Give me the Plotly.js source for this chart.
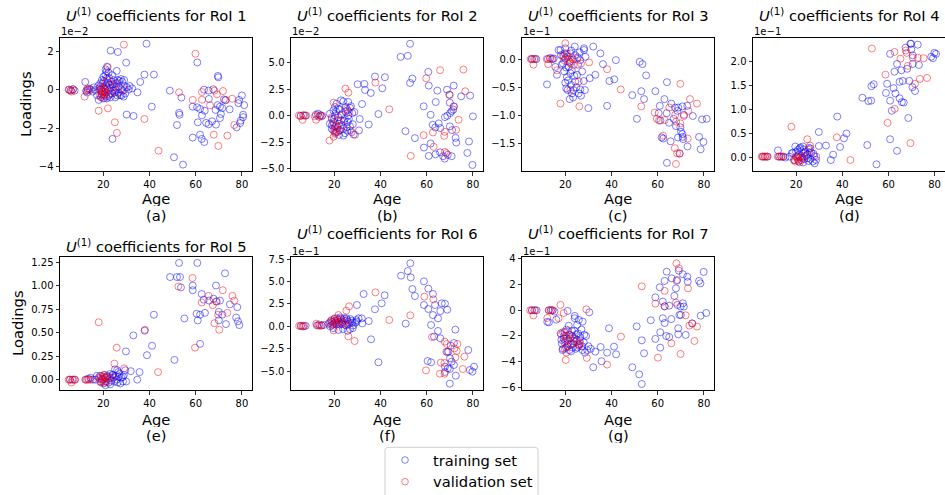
<!DOCTYPE html>
<html><head><meta charset="utf-8">
<script src="https://cdn.plot.ly/plotly-3.0.1.min.js"></script>
<style>html,body{margin:0;background:#fff;overflow:hidden}#chart{width:945px;height:495px}</style>
</head><body><div id="chart"></div>
<script>
// ---------------- data: [age, loading] (loading in units of the panel's offset) -------------
const seriesNames = ['training set', 'validation set'];
const panelLabels = ['(a)', '(b)', '(c)', '(d)', '(e)', '(f)', '(g)'];
const roiNames = ['1', '2', '3', '4', '5', '6', '7'];
const offsetTexts = ['1e\u22122', '1e\u22122', '1e\u22121', '1e\u22121', '', '1e\u22121', '1e\u22121'];
const ageTicks = [20, 40, 60, 80];

const trainRoI1 = [[5.2,0.0],[6.0,-0.03],[6.8,0.02],[7.6,-0.05],[12.2,0.4],[12.6,-0.08],[13.3,0.0],[14.0,0.05],[14.7,0.0],[15.4,-0.1],[13.0,-0.15],
[18.7,0.33],[19.4,0.5],[20.1,0.67],[20.9,0.76],[21.0,1.05],[21.6,1.19],[22.3,0.88],[22.6,0.6],[23.5,0.41],[24.5,0.5],[25.8,0.97],[26.2,0.5],[27.6,0.55],[28.2,0.41],[26.8,0.16],[29.1,0.19],[30.2,0.12],[31.4,0.19],[32.5,0.07],[27.3,-0.28],[28.8,-0.36],[25.2,-0.4],[22.2,-0.33],[21.6,-0.45],[18.0,-0.53],[17.3,-0.29],[16.5,-0.02],[19.4,-0.1],[20.4,-0.28],[22.3,-0.02],[24.2,-0.05],[25.3,-0.02],[26.6,-0.16],[27.8,0.02],[21.3,0.19],[19.9,0.12],[18.4,0.07],[15.8,0.12],
[20.5,-0.1],[21.2,-0.35],[22.8,0.25],[23.8,-0.2],[24.8,0.3],[19.0,-0.4],[20.0,-0.45],[21.8,0.1],[23.0,-0.4],[25.6,0.1],[26.0,-0.3],[28.5,-0.05],[29.5,-0.2],[31.0,0.0],
[17.8,0.2],[18.9,0.0],[19.6,0.3],[20.3,0.45],[21.5,0.6],[22.0,0.35],[23.3,0.1],[24.0,0.25],[24.9,-0.15],[25.9,0.35],[26.9,0.45],[27.9,-0.3],[29.0,0.5],[22.7,-0.25],[20.8,0.05],[19.3,-0.25],[23.9,0.75],[21.4,0.95],
[23.2,2.02],[26.3,1.95],[29.9,1.40],[24.0,-2.55],[30.1,-1.29],[33.1,-1.36],[34.8,-0.14],[36.0,0.4],
[38.7,2.38],[37.8,0.78],[41.9,0.78],[41.0,-0.88],[48.8,-0.05],[53.8,-0.41],[52.8,-1.2],[53.0,-1.3],[51.9,-1.83],[50.6,-3.5],[54.5,-3.88],[60.7,1.41],[58.7,-2.48],[61.9,-2.33],[62.6,-2.55],[63.7,-2.71],[58.7,-0.88],[60.6,-0.91],[61.9,-1.0],[62.7,-1.33],[63.9,-1.09],[60.9,-1.69],[63.6,0.0],[65.6,-0.05],[67.6,0.02],[65.7,-0.48],[64.5,-1.72],[65.6,-1.79],[67.1,-1.64],[68.8,-1.81],[69.6,0.71],[69.8,0.64],[68.6,-1.05],[69.5,-0.8],[70.5,-0.88],[70.9,-1.26],[70.5,-1.47],[71.5,-0.95],[72.2,-0.5],[72.8,-0.55],[74.7,-1.02],[77.7,-1.95],[78.8,-0.53],[80.5,-1.42],[79.2,-1.73],[80.0,-0.3],[81.0,-0.8],[78.5,-0.7],[80.5,-1.3],[79.5,-1.6]];
const valRoI1 = [[5.0,0.0],[5.8,-0.05],[6.3,-0.1],[7.0,0.02],[12.7,-0.02],[11.9,-0.36],[13.2,0.07],[14.1,-0.02],[18.7,-0.05],[19.4,-0.19],[19.1,-0.36],[20.1,0.02],[20.4,-0.45],[18.7,0.16],[21.0,0.36],[21.9,1.16],[22.0,-0.97],[18.0,-1.09],[25.0,-1.69],[25.9,-2.24],[28.9,2.33],[24.5,0.16],[25.5,0.33],[26.2,-0.16],[23.0,-0.19],[21.3,-0.16],[29.1,0.02],[21.9,0.53],
[18.5,-0.3],[19.8,-0.1],[20.6,-0.25],[19.2,0.05],[20.9,-0.05],
[37.8,-1.52],[43.9,-3.16],[52.8,-0.14],[59.9,1.86],[58.7,-0.53],[62.7,-0.12],[62.7,-0.52],[66.2,-0.81],[68.1,-0.05],[71.8,-0.07],[69.2,-0.24],[73.1,-0.53],[75.8,-0.47],[67.8,-2.33],[69.8,-2.91],[73.7,-2.38],[76.7,-1.83]];

const trainRoI2 = [[5.5,0.0],[6.5,0.05],[7.5,0.0],[12.0,0.1],[13.0,0.2],[14.0,0.05],[14.8,0.0],[13.5,-0.1],
[18.1,0.19],[18.9,-0.28],[19.6,0.5],[20.3,0.82],[21.0,1.13],[21.7,0.66],[22.9,1.45],[23.9,1.35],[24.9,0.82],[25.8,0.5],[26.8,0.75],[27.8,0.25],[28.7,0.35],[18.9,-1.23],[19.6,-1.38],[20.3,-1.0],[21.0,-1.54],[22.0,-0.75],[22.9,-0.44],[23.9,-1.23],[24.6,-1.64],[25.8,-0.6],[26.8,-1.0],[27.5,-1.54],[28.4,-1.76],[20.3,0.03],[21.7,-0.13],[23.2,0.13],[24.6,-0.28],[26.1,0.03],[18.1,-0.75],[19.6,-0.6],[22.5,-1.38],[23.9,-1.86],[25.4,-1.07],
[19.0,-0.9],[19.9,-0.3],[20.8,0.4],[21.4,-1.1],[22.3,0.6],[23.0,-0.9],[24.2,-0.5],[24.8,0.4],[25.6,-1.4],[26.3,-0.3],[27.2,0.9],[28.0,-0.8],[22.0,-1.8],[20.5,-1.6],[26.0,1.3],
[33.3,2.42],[30.1,2.96],[33.0,2.99],[37.6,3.68],[41.9,3.62],[40.8,2.58],[35.8,2.14],[32.0,1.1],[39.1,0.16],[34.9,-0.82],[30.7,-1.38],[31.0,-0.31],
[52.8,6.76],[48.7,5.53],[51.8,5.63],[52.8,3.08],[53.8,3.49],[60.7,4.12],[60.9,2.83],[64.6,2.36],[68.8,2.45],[71.7,2.83],[69.8,1.98],[74.9,1.82],[78.8,1.89],[70.0,1.23],[71.8,0.88],[58.7,0.88],[63.9,1.29],[61.7,0.09],[67.9,-0.13],[68.9,0.0],[70.2,0.25],[70.8,0.44],[71.5,0.57],[80.0,-0.06],[62.6,-0.85],[63.7,-1.1],[65.2,-0.72],[65.9,-1.16],[70.0,-1.0],[71.0,-1.35],[72.5,-2.08],[72.8,-2.52],[78.3,-2.42],[50.8,-1.45],[54.9,-2.1],[58.8,-2.99],[61.7,-2.61],[60.9,-3.77],[63.8,-3.62],[65.8,-3.43],[67.1,-3.8],[67.8,-4.03],[69.1,-3.68],[70.8,-3.8],[79.8,-4.62],[77.6,-3.49]];
const valRoI2 = [[4.7,0.03],[5.4,-0.03],[6.3,-0.38],[7.0,0.03],[7.8,0.03],[11.6,-0.06],[12.1,-0.38],[12.8,0.03],[14.0,0.03],[14.5,-0.06],
[18.9,-0.13],[19.6,-0.75],[20.3,-1.23],[21.0,-0.91],[21.4,-0.44],[22.0,-1.38],[22.9,0.03],[23.5,-0.91],[25.4,0.66],[26.4,0.35],[26.8,-1.38],[20.3,-1.7],[21.0,-1.45],
[24.8,2.55],[26.1,2.17],[37.8,3.11],[43.8,0.6],[59.8,3.52],[65.8,4.28],[75.9,4.34],[76.7,2.3],[70.0,1.95],[71.7,0.85],[73.8,-0.38],[58.7,-1.82],[62.7,-1.57],[63.0,-2.92],[67.8,-1.51],[67.6,-1.89],[72.7,-1.32],[53.1,-3.77],[67.8,-3.4],[68.5,-3.52],[17.9,-2.33],[19.7,-1.98],[20.2,-1.48],[29.0,-1.79],[19.7,1.23]];

const trainRoI3 = [[5.5,0.0],[6.5,0.0],[7.5,0.0],[12.5,0.0],[13.5,0.02],[14.5,0.0],[15.0,0.01],[12.1,-0.45],
[17.1,0.16],[18.1,0.07],[19.0,-0.08],[19.6,-0.22],[20.0,-0.42],[20.4,-0.52],[20.7,-0.32],[21.5,-0.14],[21.9,-0.05],[22.2,0.10],[22.2,-0.25],[22.5,-0.46],[22.9,-0.61],[21.9,-0.71],[23.6,-0.55],[24.3,-0.40],[25.1,-0.28],[25.8,-0.61],[26.5,-0.54],[26.8,-0.65],[28.0,-0.39],[23.3,-0.01],[24.3,0.07],[25.4,0.03],[26.5,-0.02],[28.7,0.04],[20.0,0.01],[21.0,0.04],[16.4,-0.28],[15.7,-0.14],
[18.5,-0.1],[19.3,0.05],[20.3,-0.15],[21.2,-0.38],[22.8,-0.2],[23.9,-0.3],[24.8,-0.5],[25.5,-0.1],[26.2,0.12],[27.3,-0.22],[28.5,-0.55],[21.0,-0.55],[23.4,-0.68],[19.8,0.1],[22.6,0.15],
[32.1,0.22],[35.2,0.10],[36.3,-0.09],[41.9,-0.02],[39.1,-0.39],[41.2,-0.36],[38.1,-0.83],[33.0,-0.28],[30.6,-0.34],[30.0,-0.87],[24.1,0.22],[28.1,0.19],[28.1,0.16],[20.0,0.19],[17.9,0.16],
[52.2,-0.05],[53.4,-0.09],[55.0,-0.29],[49.0,-0.64],[52.9,-0.57],[54.1,-0.71],[51.0,-1.06],[59.0,-0.57],[64.0,-0.41],[62.9,-0.71],[60.9,-0.83],[65.9,-0.79],[67.5,-0.86],[68.9,-0.86],[70.7,-0.84],[72.8,-0.83],[60.4,-0.96],[63.9,-0.96],[68.5,-0.92],[71.3,-0.99],[75.2,-1.01],[79.2,-1.07],[81.2,-1.06],[61.2,-1.09],[64.9,-1.13],[67.9,-1.19],[69.8,-1.21],[66.9,-1.06],[70.1,-1.29],[70.7,-1.33],[70.8,-1.38],[61.7,-1.39],[62.4,-1.41],[68.8,-1.39],[71.0,-1.42],[77.9,-1.38],[79.8,-1.47],[65.6,-1.46],[72.9,-1.55],[78.6,-1.6],[69.5,-1.67],[64.0,-1.84]];
const valRoI3 = [[5.0,0.0],[5.7,0.0],[6.2,-0.1],[7.0,0.0],[12.0,0.0],[12.6,-0.09],[13.3,0.0],[14.2,0.0],[18.8,0.05],[19.5,-0.02],[20.5,0.07],[21.3,0.0],[22.0,-0.05],[16.4,-0.2],[23.0,0.02],
[20.0,0.28],[20.7,0.10],[22.2,-0.08],[23.6,-0.11],[25.1,0.0],[26.8,-0.08],[30.3,-0.06],[38.1,-0.18],[44.0,-0.54],[17.9,-0.79],[26.1,-0.84],[22.2,-0.55],[25.8,-0.40],[52.9,-0.84],[58.7,-0.95],[59.6,-1.06],[60.6,-1.09],[63.0,-1.08],[62.3,-1.36],[65.0,-0.86],[67.6,-0.99],[68.0,-1.11],[69.8,-1.14],[71.4,-1.01],[73.3,-0.92],[74.0,-0.71],[77.0,-0.79],[69.8,-0.44],[67.4,-1.58],[68.4,-1.67],[69.5,-1.68],[67.9,-1.86],[73.0,-1.41]];

const trainRoI4 = [[5.5,0.02],[6.5,0.02],[7.5,0.02],[12.5,0.02],[13.5,0.02],[14.5,0.02],[15.3,0.0],
[19.6,0.23],[20.7,0.16],[21.5,0.19],[22.2,0.13],[22.9,0.23],[23.6,0.09],[24.4,0.03],[25.1,-0.01],[26.2,-0.03],[27.2,-0.08],[28.0,-0.12],[22.2,-0.05],[20.5,0.02],[18.1,0.09],[17.1,0.02],[12.1,0.15],[23.6,-0.03],[25.8,0.10],[19.0,-0.05],[21.5,0.01],
[18.5,0.1],[19.9,0.12],[20.9,0.05],[21.8,0.21],[22.6,0.0],[23.2,0.17],[24.0,0.12],[24.8,0.06],[25.5,0.2],[26.6,0.1],[27.8,0.03],[28.6,-0.05],[21.0,-0.08],[23.0,-0.1],[25.3,-0.07],
[69.5,2.36],[69.8,2.36],[72.7,2.34],[67.4,2.28],[69.9,2.24],[60.7,2.15],[70.5,2.12],[79.9,2.17],[78.5,2.09],[79.3,2.06],[80.6,2.15],[63.7,1.94],[70.5,1.94],[73.2,1.92],[68.1,1.84],[65.6,1.81],[62.6,1.78],[59.4,1.53],[62.2,1.44],[66.2,1.59],[69.0,1.59],[64.8,1.57],[53.6,1.52],[52.6,1.48],[58.9,1.34],[63.0,1.33],[64.8,1.23],[65.8,1.15],[66.6,1.14],[60.7,1.18],[61.4,0.97],[70.4,1.46],[71.5,1.38],[48.7,1.24],[51.3,1.17],[52.5,1.18],[68.6,0.82],[37.8,0.85],[29.8,0.53],[41.8,0.5],[40.7,0.4],[39.0,0.22],[60.7,0.38],[50.8,0.26],[63.7,0.14],[54.8,-0.14],[32.9,0.25],[36.0,0.06],[35.0,-0.05],[29.8,0.24],[26.1,0.19],[27.5,0.08]];
const valRoI4 = [[5.0,0.02],[5.7,0.02],[6.3,0.02],[7.0,0.02],[7.6,0.02],[12.0,0.02],[12.8,0.02],[13.5,0.02],[14.2,0.02],
[52.8,2.26],[62.6,2.19],[67.5,2.22],[67.9,2.17],[65.2,2.05],[70.5,2.07],[72.7,2.07],[75.2,2.06],[58.7,1.72],[68.4,1.90],[71.5,1.53],[73.6,1.63],[76.7,1.65],[62.7,1.01],[59.6,0.72],[69.5,0.30],[37.6,0.42],[43.5,-0.05],[17.9,0.64],[24.8,0.38],[26.0,0.25],[25.5,0.16],[20.0,0.02],[20.7,-0.03],[21.5,-0.1],[22.2,0.03],[22.9,-0.02],[23.6,0.02],[28.7,0.02],[19.3,-0.05],
[19.5,-0.08],[20.3,0.0],[21.0,-0.06]];

const trainRoI5 = [[5.6,0.0],[6.6,0.0],[7.6,0.0],[12.5,0.0],[13.5,0.01],[14.5,0.02],[15.5,0.0],
[18.0,0.02],[19.0,-0.03],[19.8,0.01],[20.5,0.05],[21.2,-0.02],[22.0,0.03],[22.8,0.06],[23.5,-0.01],[24.5,0.02],[25.3,0.04],[26.2,-0.03],[27.0,0.06],[27.8,0.02],[28.5,-0.02],[21.0,-0.06],[23.0,-0.05],[16.5,0.0],[17.2,0.04],
[18.6,0.04],[19.4,0.0],[20.2,-0.04],[20.9,0.02],[21.7,0.04],[22.4,-0.03],[23.1,0.02],[24.0,0.05],[24.9,-0.02],[25.8,0.0],[26.7,0.03],[27.4,-0.04],[28.9,0.05],[29.5,0.1],[26.0,0.1],
[52.8,1.24],[60.7,1.24],[48.9,1.09],[51.9,1.09],[53.2,1.09],[53.6,0.98],[58.7,1.0],[58.7,0.95],[72.7,1.13],[68.8,1.0],[62.6,0.91],[63.5,0.85],[65.8,0.84],[67.7,0.86],[69.1,0.83],[70.5,0.84],[74.8,0.8],[78.0,0.77],[60.4,0.70],[61.9,0.69],[64.0,0.71],[70.0,0.72],[71.5,0.69],[60.9,0.63],[70.0,0.63],[73.1,0.59],[77.5,0.66],[78.3,0.62],[78.9,0.58],[55.1,0.65],[61.9,0.38],[50.8,0.21],[41.9,0.69],[33.0,0.47],[37.9,0.52],[41.1,0.36],[38.9,0.26],[29.8,0.30],[35.7,0.08],[31.9,0.09],[34.7,0.0],[29.9,-0.02],[28.5,0.03],[26.5,0.08],[25.1,0.11],[24.1,0.05]];
const valRoI5 = [[5.0,0.0],[5.6,0.0],[6.2,-0.03],[7.0,0.0],[7.8,0.0],[12.2,0.0],[13.0,0.0],[13.8,0.0],[14.5,0.0],
[58.6,1.08],[52.5,0.99],[62.6,0.82],[65.6,0.89],[67.4,0.79],[68.8,0.83],[71.7,0.95],[75.9,0.89],[76.7,0.84],[73.7,0.71],[68.1,0.60],[70.2,0.53],[69.7,0.69],[59.7,0.34],[38.0,0.53],[25.8,0.34],[18.0,0.61],[24.8,0.17],[43.7,0.08],[29.0,0.12],[18.6,0.01],[19.3,-0.02],[20.0,0.0],[20.7,0.03],[21.5,-0.02],[20.3,0.05],[18.6,-0.02],[22.6,0.01],[24.3,0.03],
[19.6,0.03],[20.5,-0.03],[21.0,0.02],[19.0,0.04]];

const trainRoI6 = [[5.6,0.05],[6.6,0.0],[7.6,0.05],[12.5,0.1],[13.5,0.2],[14.5,0.1],[15.5,0.15],
[17.5,0.3],[18.5,0.6],[19.2,0.2],[20.0,0.8],[20.6,0.4],[21.2,0.9],[22.0,0.5],[22.6,1.0],[23.3,0.3],[24.0,0.7],[24.6,0.2],[25.3,0.9],[26.0,0.5],[26.8,-0.3],[27.5,0.6],[28.2,0.1],[29.0,0.4],[21.8,-0.4],[23.8,-0.3],[25.8,-0.5],[19.5,-0.2],[28.0,-0.2],
[18.2,0.0],[19.0,0.5],[19.8,0.3],[20.4,0.6],[21.0,0.2],[21.6,0.7],[22.4,0.2],[23.0,0.8],[23.6,0.5],[24.4,0.9],[25.0,0.1],[25.6,0.7],[26.4,0.3],[27.0,0.8],[27.8,0.4],[29.6,0.7],[30.5,0.9],
[52.9,7.03],[51.8,6.17],[48.9,5.65],[53.1,5.46],[53.8,4.16],[54.9,3.38],[58.8,5.02],[60.7,4.2],[62.7,3.61],[63.6,2.38],[60.7,1.93],[58.8,2.38],[66.5,2.57],[67.9,2.53],[68.9,1.86],[65.9,1.71],[62.7,1.26],[64.9,0.89],[61.9,0.15],[50.9,0.30],[64.9,-0.52],[63.2,-1.15],[65.9,-1.34],[32.7,3.61],[41.8,3.46],[40.5,2.57],[37.6,1.9],[29.8,2.38],[34.9,0.59],[35.9,-1.45],[39.1,-4.01],[31.9,0.89],[29.7,0.52],[32.1,0.33],
[72.4,-0.37],[71.8,-1.86],[70.4,-2.16],[69.4,-2.83],[68.9,-2.86],[70.1,-3.57],[70.8,-3.94],[71.8,-4.31],[70.0,-4.76],[69.1,-4.68],[60.4,-3.87],[61.9,-4.01],[67.9,-4.50],[72.6,-5.5],[70.0,-6.39],[78.0,-2.64],[78.7,-4.87],[79.8,-5.06],[80.5,-4.5],[67.9,-5.09]];
const valRoI6 = [[4.8,0.05],[5.5,0.05],[6.2,0.0],[7.0,0.05],[12.2,0.3],[13.0,0.1],[13.8,0.05],[14.5,0.1],[18.0,0.4],[18.8,0.7],[19.5,0.5],[20.2,0.9],[20.8,0.6],[21.5,0.4],[22.2,0.8],[23.0,0.5],[24.0,0.3],[25.0,0.6],[26.0,0.2],[19.0,0.1],[21.0,0.2],
[37.8,3.79],[43.8,0.71],[52.9,1.23],[59.0,3.31],[62.9,3.01],[62.3,-1.19],[67.8,-1.71],[68.7,-1.97],[73.3,-1.97],[72.0,-2.45],[73.0,-2.75],[68.5,-2.83],[76.3,-3.38],[72.4,-3.46],[66.1,-4.05],[67.7,-4.09],[59.7,-4.91],[65.7,-5.28],[67.7,-5.28],[75.6,-4.76],[26.1,-1.12],[28.8,-1.64],[26.4,2.23],[25.2,1.75],[21.8,1.26],[19.7,-0.45]];

const trainRoI7 = [[5.6,0.0],[6.6,0.0],[7.6,0.0],[12.8,0.0],[13.8,0.0],[14.5,0.0],[15.3,-0.1],[12.2,-0.9],
[18.0,-1.8],[18.5,-2.6],[19.0,-3.0],[19.5,-2.0],[20.0,-2.4],[20.5,-1.5],[21.0,-2.8],[21.5,-1.2],[22.0,-2.2],[22.5,-3.2],[23.0,-2.0],[23.5,-2.6],[24.0,-1.6],[24.5,-3.0],[25.0,-2.3],[25.5,-1.8],[26.0,-2.7],[26.5,-2.1],[27.0,-1.5],[27.5,-3.1],[28.0,-2.5],[28.5,-3.3],[29.0,-2.0],[30.0,-2.8],[31.0,-3.0],[20.3,-2.9],[21.8,-3.1],[24.2,-2.2],[19.3,-2.2],[22.8,-1.6],
[18.3,-2.3],[18.8,-3.1],[19.7,-1.7],[20.6,-2.2],[21.2,-2.6],[21.7,-1.9],[22.3,-2.7],[23.2,-2.9],[23.8,-2.4],[24.7,-1.9],[25.3,-2.9],[26.2,-2.4],[27.2,-2.8],[28.2,-1.9],[29.5,-3.1],
[63.9,3.01],[69.1,3.09],[72.8,2.62],[73.0,2.23],[79.9,2.99],[77.9,2.29],[78.5,2.1],[66.1,2.49],[63.0,2.29],[67.9,1.71],[68.4,2.36],[60.9,1.79],[70.9,2.81],[59.0,1.01],[67.2,1.12],[62.2,0.68],[65.0,0.36],[63.0,0.31],[68.5,0.42],[70.9,0.55],[69.9,0.29],[71.3,0.29],[69.4,-0.36],[70.0,-0.36],[78.6,-0.42],[81.0,-0.21],[74.9,-1.01],[62.2,-0.62],[63.0,-0.99],[65.9,-0.68],[57.0,-0.78],[61.1,-1.71],[63.7,-2.0],[65.0,-2.08],[68.9,-1.87],[68.9,-1.4],[72.1,-1.92],[59.0,-2.23],[61.1,-2.91],[50.9,-1.25],[53.1,-2.34],[54.1,-3.35],[49.0,-4.44],[52.0,-4.99],[53.1,-5.74],[38.9,-1.4],[38.1,-3.30],[35.7,-3.97],[41.1,-2.83],[42.0,-3.43],[32.1,-4.44],[35.3,-2.86],[33.0,-3.22],[30.4,-0.16],[27.5,-0.88],[25.9,-0.75],[24.1,-0.62],[24.1,-0.44],[21.0,-0.05],[12.9,-0.94],[16.1,-0.73],[25.1,-1.14]];
const valRoI7 = [[4.8,0.0],[5.5,0.0],[6.2,-0.4],[7.0,0.0],[12.2,-0.6],[13.0,0.0],[13.7,0.0],[14.5,0.0],
[18.2,-1.9],[19.0,-1.7],[19.6,-2.5],[20.2,-2.0],[20.8,-2.8],[21.3,-2.3],[22.0,-1.9],[22.7,-2.6],[19.8,-3.0],[21.0,-1.6],[25.0,-2.4],[26.0,-2.8],[23.5,-2.2],[20.5,-3.3],
[68.1,3.66],[69.2,3.27],[68.2,2.29],[73.1,1.71],[53.1,1.87],[63.0,1.51],[59.0,0.52],[63.0,0.31],[67.9,0.6],[72.1,-0.39],[73.7,-1.19],[75.0,-1.04],[77.0,-1.27],[75.9,-2.39],[65.9,-2.57],[60.1,-3.69],[69.9,-3.40],[44.1,-2.05],[38.1,-4.23],[29.3,-3.71],[29.1,0.08],[17.9,0.42],[19.3,-0.21],[17.1,-0.62],[20.2,-3.87],[25.8,-2.65],[26.5,-2.57]];

const trainSets = [trainRoI1, trainRoI2, trainRoI3, trainRoI4, trainRoI5, trainRoI6, trainRoI7];
const valSets = [valRoI1, valRoI2, valRoI3, valRoI4, valRoI5, valRoI6, valRoI7];

// ---------------- layout / styling ----------------
const W = 945, H = 495;
const FONT = 'DejaVu Sans, sans-serif';
const BIG = 14.7, SMALL = 10;
const colors = ['rgba(0,0,255,0.5)', 'rgba(255,0,0,0.5)'];
// plot boxes in px: [left, right, top, bottom]
const boxes = [[60,252.3,37.7,171],[291,483.3,37.7,171],[522,714.3,37.7,171],[753,945.3,37.7,171],
               [60,252.3,257.3,390],[291,483.3,257.3,390],[522,714.3,257.3,390]];
const yRanges = [[-4.21,2.69],[-5.19,7.33],[-1.985,0.378],[-0.278,2.485],[-0.11,1.30],[-7.1,7.7],[-6.21,4.13]];
const yDticks = [2, 2.5, 0.5, 0.5, 0.25, 2.5, 2];
const yFormats = ['d', '.1f', '.1f', '.1f', '.2f', '.1f', 'd'];
const titleY = [15, 15, 15, 15, 245, 233, 233];
const ageY = [[199,215],[199,215],[199,215],[199,215],[419,435],[419,435],[419,435]];
// legend box (px)
const LEG = {x0: 385, x1: 538, y0: 447.3, y1: 503, mx: 405, tx: 431, rows: [460, 481.7]};

const px = v => v / W, py = v => 1 - v / H;
const traces = [], annotations = [], shapes = [];
const layout = {
  width: W, height: H, margin: {l:0, r:0, t:0, b:0},
  paper_bgcolor: '#fff', plot_bgcolor: '#fff',
  font: {family: FONT, color: '#000', size: SMALL},
  showlegend: false
};
const txt = (x, y, text, size, extra) => Object.assign({xref:'paper', yref:'paper', x: x, y: y,
  xanchor:'center', yanchor:'middle', text: text, showarrow:false,
  font:{family: FONT, size: size, color:'#000'}}, extra || {});

boxes.forEach((b, i) => {
  const sfx = i === 0 ? '' : String(i + 1);
  [trainSets[i], valSets[i]].forEach((set, k) => {
    traces.push({
      type: 'scatter', mode: 'markers', name: seriesNames[k],
      x: set.map(p => p[0]), y: set.map(p => p[1]),
      xaxis: 'x' + sfx, yaxis: 'y' + sfx,
      marker: {symbol: 'circle-open', size: 7, color: colors[k], line: {width: 1}},
      hoverinfo: 'skip'
    });
  });
  const common = {showline: true, mirror: true, linecolor: '#000', linewidth: 1,
    ticks: 'outside', ticklen: 3.5, tickwidth: 0.8, tickcolor: '#000',
    showgrid: false, zeroline: false, tickfont: {family: FONT, size: SMALL, color: '#000'}};
  layout['xaxis' + sfx] = Object.assign({}, common, {
    domain: [px(b[0]), Math.min(1, px(b[1]))], range: [1.26, 84.5],
    tickmode: 'array', tickvals: ageTicks, ticktext: ageTicks.map(String),
    anchor: 'y' + sfx});
  layout['yaxis' + sfx] = Object.assign({}, common, {
    domain: [py(b[3]), py(b[2])], range: yRanges[i], dtick: yDticks[i], tick0: 0,
    tickformat: yFormats[i], anchor: 'x' + sfx});
  const cx = px((b[0] + b[1]) / 2);
  annotations.push(txt(cx, py(titleY[i]), '<i>U</i><sup>(1)</sup> coefficients for RoI ' + roiNames[i], BIG));
  annotations.push(txt(cx, py(ageY[i][0]), 'Age', BIG, {height: 15}));
  annotations.push(txt(cx, py(ageY[i][1]), panelLabels[i], BIG, {height: 15}));
  if (offsetTexts[i]) {
    annotations.push(txt(px(b[0] - 1), py(b[2] - 6), offsetTexts[i], SMALL, {xanchor: 'left'}));
  }
});
annotations.push(txt(px(25), py(104), 'Loadings', BIG, {textangle: -90}));
annotations.push(txt(px(17), py(323), 'Loadings', BIG, {textangle: -90}));

// legend drawn as a framed box with two open-circle keys
const r = 3;
const lx0 = px(LEG.x0), lx1 = px(LEG.x1), ly0 = py(LEG.y0), ly1 = py(LEG.y1);
const rx = px(r), ry = r / H;
shapes.push({type: 'path', xref: 'paper', yref: 'paper',
  path: `M ${lx0 + rx} ${ly0} L ${lx1 - rx} ${ly0} Q ${lx1} ${ly0} ${lx1} ${ly0 - ry} L ${lx1} ${ly1 + ry} Q ${lx1} ${ly1} ${lx1 - rx} ${ly1} L ${lx0 + rx} ${ly1} Q ${lx0} ${ly1} ${lx0} ${ly1 + ry} L ${lx0} ${ly0 - ry} Q ${lx0} ${ly0} ${lx0 + rx} ${ly0} Z`,
  fillcolor: 'rgba(255,255,255,0.8)', line: {color: '#d0d0d0', width: 1}, layer: 'above'});
LEG.rows.forEach((yy, k) => {
  shapes.push({type: 'circle', xref: 'paper', yref: 'paper',
    x0: px(LEG.mx - 3.3), x1: px(LEG.mx + 3.3), y0: py(yy + 3.3), y1: py(yy - 3.3),
    line: {color: colors[k], width: 1}, fillcolor: 'rgba(0,0,0,0)', layer: 'above'});
  annotations.push(txt(px(LEG.tx), py(yy), seriesNames[k], BIG, {xanchor: 'left'}));
});
layout.annotations = annotations;
layout.shapes = shapes;

Plotly.newPlot('chart', traces, layout, {staticPlot: true, displayModeBar: false});
</script></body></html>
